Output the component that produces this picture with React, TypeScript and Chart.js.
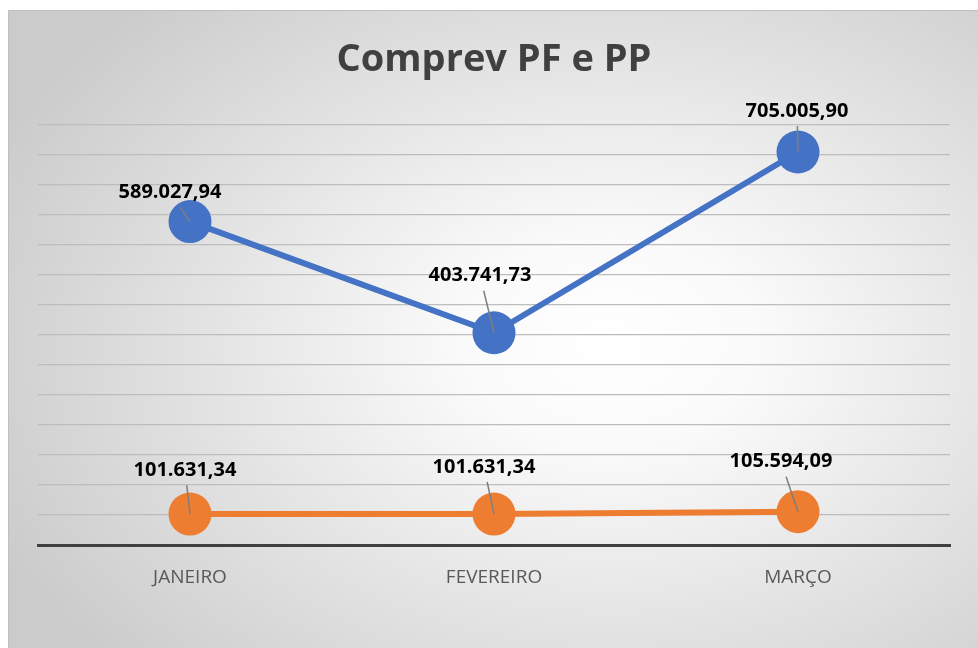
import React, { useEffect, useRef } from "react";
import { Chart, registerables } from "chart.js";

Chart.register(...registerables);

const TITLE = "Comprev PF e PP";
const MONTHS = ["JANEIRO", "FEVEREIRO", "MARÇO"];
const PF_VALUES = [589027.94, 403741.73, 705005.9];
const PP_VALUES = [101631.34, 101631.34, 105594.09];
const Y_MIN = 50000;
const Y_MAX = 750000;
const Y_STEP = 50000;

// label placement relative to point (px): [dx, dy] per series
const PF_LABEL_OFFSETS = [[-20, -29], [-14, -57], [-1, -41]];
const PP_LABEL_OFFSETS = [[-5, -44], [-10, -47], [-17, -50]];

const fmt = (v: number) =>
  v.toLocaleString("pt-BR", { minimumFractionDigits: 2, maximumFractionDigits: 2 });

const labelPlugin = {
  id: "leaderLabels",
  afterDatasetsDraw(chart: any) {
    const ctx = chart.ctx;
    const offsets = [PF_LABEL_OFFSETS, PP_LABEL_OFFSETS];
    chart.data.datasets.forEach((ds: any, di: number) => {
      const meta = chart.getDatasetMeta(di);
      meta.data.forEach((pt: any, i: number) => {
        const [dx, dy] = offsets[di][i];
        const lx = pt.x + dx;
        const ly = pt.y + dy;
        const startY = ly + 15;
        const t = (pt.y - startY) / (pt.y - ly);
        const startX = pt.x + (lx - pt.x) * t;
        ctx.save();
        ctx.strokeStyle = "#7f7f7f";
        ctx.lineWidth = 1.5;
        ctx.beginPath();
        ctx.moveTo(startX, startY);
        ctx.lineTo(pt.x, pt.y);
        ctx.stroke();
        ctx.fillStyle = "#000000";
        ctx.font = "bold 20px 'Open Sans'";
        ctx.textAlign = "center";
        ctx.textBaseline = "middle";
        ctx.fillText(fmt(ds.data[i]), lx, ly);
        ctx.restore();
      });
    });
  },
};

export default function App() {
  const ref = useRef<HTMLCanvasElement>(null);
  useEffect(() => {
    if (!ref.current) return;
    const chart = new Chart(ref.current, {
      type: "line",
      data: {
        labels: MONTHS,
        datasets: [
          {
            label: "PF",
            data: PF_VALUES,
            borderColor: "#4472C4",
            backgroundColor: "#4472C4",
            pointBackgroundColor: "#4472C4",
            borderWidth: 6,
            pointRadius: 21.5,
            pointBorderWidth: 0,
            tension: 0,
          },
          {
            label: "PP",
            data: PP_VALUES,
            borderColor: "#ED7D31",
            backgroundColor: "#ED7D31",
            pointBackgroundColor: "#ED7D31",
            borderWidth: 6,
            pointRadius: 21.5,
            pointBorderWidth: 0,
            tension: 0,
          },
        ],
      },
      options: {
        responsive: false,
        animation: false,
        layout: { padding: { left: 29, right: 27, top: 0, bottom: 0 } },
        plugins: {
          legend: { display: false },
          tooltip: { enabled: false },
          title: {
            display: true,
            text: TITLE,
            color: "#404040",
            font: { family: "'Open Sans'", size: 38, weight: "bold", lineHeight: 1.2 },
            padding: { top: 26, bottom: 42.4 },
          },
        },
        scales: {
          x: {
            offset: true,
            grid: { display: false },
            border: { display: true, color: "#404040", width: 3 },
            ticks: {
              color: "#595959",
              font: { family: "'Open Sans'", size: 19 },
              padding: 13,
            },
            afterFit: (s: any) => {
              s.height = 102;
            },
          },
          y: {
            min: Y_MIN,
            max: Y_MAX,
            ticks: { display: false, stepSize: Y_STEP },
            border: { display: false },
            grid: {
              color: (c: any) => (c.tick && c.tick.value === Y_MIN ? "rgba(0,0,0,0)" : "#bdbdbd"),
              lineWidth: 1.2,
              drawTicks: false,
            },
            afterFit: (s: any) => {
              s.width = 0;
            },
          },
        },
      },
      plugins: [labelPlugin],
    });
    return () => chart.destroy();
  }, []);

  return (
    <div
      style={{
        position: "fixed",
        left: 8,
        top: 10,
        width: 972,
        height: 640,
        boxSizing: "border-box",
        border: "1px solid #bfbfbf",
        background:
          "radial-gradient(ellipse 70% 75% at 62% 52%, #ffffff 0%, #fafafa 22%, #e3e3e3 60%, #cbcbcb 100%)",
        overflow: "hidden",
      }}
    >
      <canvas
        ref={ref}
        width={968}
        height={636}
        style={{ position: "absolute", left: 0, top: 0, width: 968, height: 636 }}
      />
    </div>
  );
}
